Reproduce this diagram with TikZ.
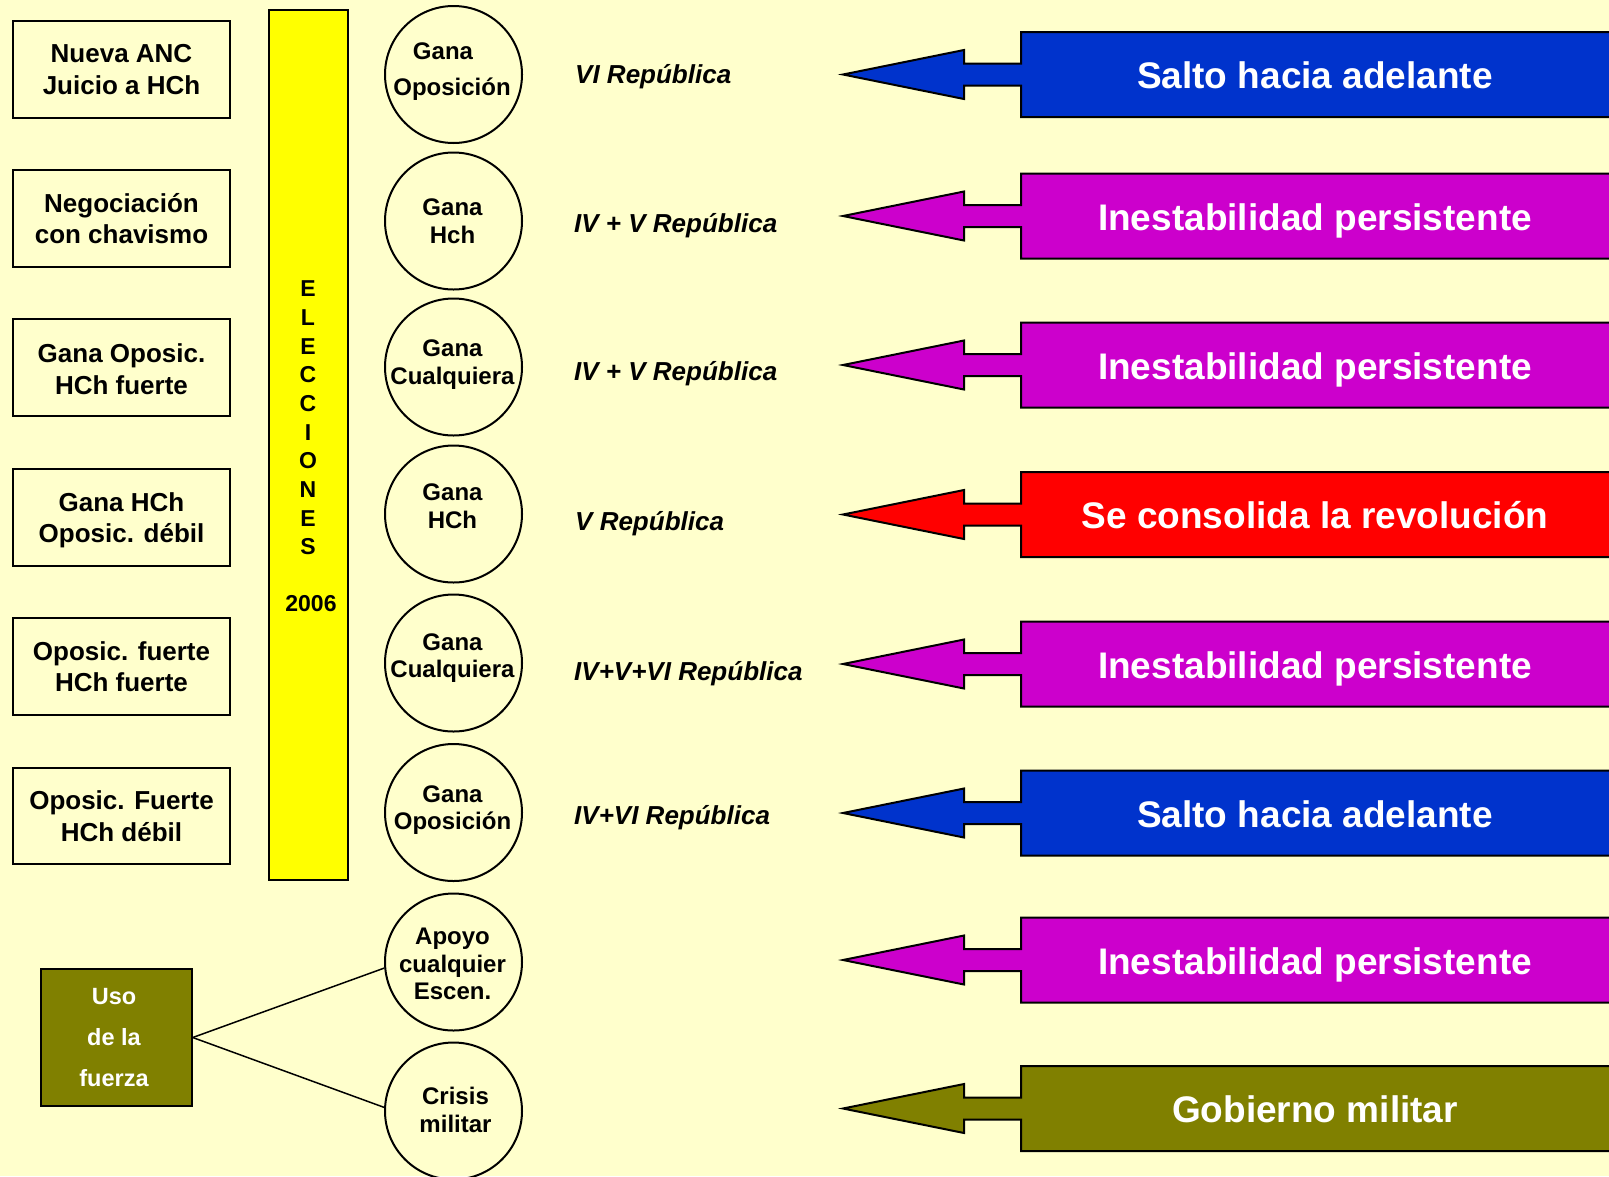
\documentclass[tikz,border=0pt]{standalone}
\usepackage{fontspec}
\setmainfont{Liberation Sans}
\definecolor{bg}{HTML}{FFFFCC}
\definecolor{ablue}{HTML}{0033CC}
\definecolor{amag}{HTML}{CC00CC}
\definecolor{ared}{HTML}{FF0000}
\definecolor{aolive}{HTML}{808000}
\definecolor{ayellow}{HTML}{FFFF00}
\newcommand{\callarrow}[4]{%
  \filldraw[fill=#2, draw=black, line width=2pt, line join=miter]
    (1021,#1-42.5) -- (1625,#1-42.5) -- (1625,#1+42.5) -- (1021,#1+42.5)
    -- (1021,#1+11) -- (964,#1+11) -- (964,#1+24.5) -- (843,#1)
    -- (964,#1-24.5) -- (964,#1-11) -- (1021,#1-11) -- cycle;
  \node[bigtxt] (#4) at (1315,#1+1) {#3};}
\begin{document}
\begin{tikzpicture}[x=1pt,y=-1pt,
  lbox/.style={draw=black, line width=2pt, minimum width=217pt, minimum height=96.7pt,
    inner sep=0pt, align=center, font=\fontsize{26}{31.7}\selectfont\bfseries},
  ltext/.style={inner sep=0pt, align=center, font=\fontsize{26}{31.7}\selectfont\bfseries},
  circ/.style={circle, draw=black, line width=2pt, minimum size=137pt, inner sep=0pt},
  ctext/.style={align=center, inner sep=0pt, font=\fontsize{24}{27.7}\selectfont\bfseries},
  lab/.style={anchor=base west, inner sep=0pt, font=\fontsize{26}{30}\selectfont\bfseries\itshape},
  bigtxt/.style={text=white, inner sep=0pt, text height=26.5pt, text depth=0pt, font=\fontsize{37}{44}\selectfont\bfseries},
  ybar/.style={draw=black, line width=2pt, fill=ayellow, minimum width=78.5pt, minimum height=870pt, inner sep=0pt},
  ytext/.style={align=center, inner sep=0pt, font=\fontsize{23}{28.7}\selectfont\bfseries},
  usobox/.style={draw=black, line width=2pt, fill=aolive, minimum width=150.5pt, minimum height=137pt, inner sep=0pt},
  usotext/.style={align=center, inner sep=0pt, text=white, font=\fontsize{23.5}{41}\selectfont\bfseries},
  conn/.style={draw=black, line width=1.5pt}]
\useasboundingbox (0,0) rectangle (1609,1176);
\clip (0,0) rectangle (1609,1176);
\fill[bg] (0,0) rectangle (1609,1176);

% left boxes
\node[lbox] (b1) at (121.5,69.3) {Nueva ANC\\Juicio a HCh};
\node[lbox] (b2) at (121.5,218.5) {Negociación\\con chavismo};
\node[lbox] (b3) at (121.5,367.7) {};
\node[ltext] (b3t) at (121.5,369.2) {Gana Oposic.\\HCh fuerte};
\node[lbox] (b4) at (121.5,517.3) {};
\node[ltext] (b4t) at (121.5,520.3) {Gana HCh\\Oposic. débil};
\node[lbox] (b5) at (121.5,666.7) {Oposic. fuerte\\HCh fuerte};
\node[lbox] (b6) at (121.5,816) {Oposic. Fuerte\\HCh débil};

% yellow bar
\node[ybar] (bar) at (308.5,445) {};
\node[ytext] (elec) at (308,418) {E\\L\\E\\C\\C\\I\\O\\N\\E\\S};
\node[ytext] (year) at (311,604) {2006};

% circles
\node[circ] (c1) at (453.5,74.5) {};
\node[circ] (c2) at (453.5,221) {};
\node[circ] (c3) at (453.5,367) {};
\node[circ] (c4) at (453.5,514) {};
\node[circ] (c5) at (453.5,663) {};
\node[circ] (c6) at (453.5,812.5) {};
\node[circ] (c7) at (453.5,962) {};
\node[circ] (c8) at (453.5,1111) {};
\node[ctext, font=\fontsize{24}{35.9}\selectfont\bfseries] (t1) at (452,71.5) {Gana\rule{18pt}{0pt}\\Oposición};
\node[ctext] (t2) at (452.5,221.5) {Gana\\Hch};
\node[ctext] (t3) at (452.5,364.5) {Gana\\Cualquiera};
\node[ctext] (t4) at (452.5,506) {Gana\\HCh};
\node[ctext] (t5) at (452.5,658) {Gana\\Cualquiera};
\node[ctext] (t6) at (452.5,810) {Gana\\Oposición};
\node[ctext] (t7) at (452.5,964) {Apoyo\\cualquier\\Escen.};
\node[ctext] (t8) at (455.5,1109.6) {Crisis\\militar};

% labels
\node[lab] (l1) at (575,83.3) {VI República};
\node[lab] (l2) at (574,232.5) {IV + V República};
\node[lab] (l3) at (574,380.3) {IV + V República};
\node[lab] (l4) at (575,530.3) {V República};
\node[lab] (l5) at (574,680.3) {IV+V+VI República};
\node[lab] (l6) at (574,824.3) {IV+VI República};

% uso de la fuerza
\node[usobox] (uso) at (116.5,1037.5) {};
\node[usotext] (usot) at (114,1038) {Uso\\de la\\fuerza};
\draw[conn] (uso.east) -- (c7.185);
\draw[conn] (uso.east) -- (c8.177);

% arrows
\callarrow{74.5}{ablue}{Salto hacia adelante}{a1}
\callarrow{216}{amag}{Inestabilidad persistente}{a2}
\callarrow{365}{amag}{Inestabilidad persistente}{a3}
\callarrow{514.5}{ared}{Se consolida la revolución}{a4}
\callarrow{664}{amag}{Inestabilidad persistente}{a5}
\callarrow{813}{ablue}{Salto hacia adelante}{a6}
\callarrow{960}{amag}{Inestabilidad persistente}{a7}
\callarrow{1108.5}{aolive}{Gobierno militar}{a8}
\end{tikzpicture}
\end{document}
